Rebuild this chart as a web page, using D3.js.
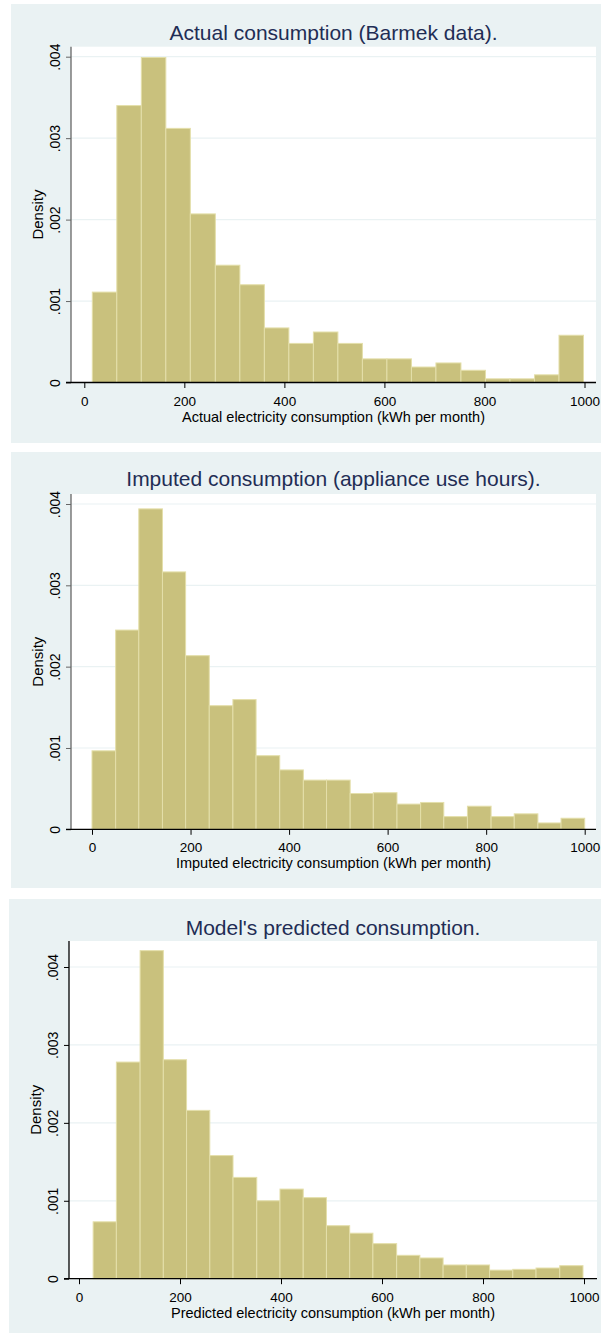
<!DOCTYPE html>
<html>
<head>
<meta charset="utf-8">
<script src="https://cdn.jsdelivr.net/npm/d3@7"></script>
<style>
body { margin: 0; background: #fff; }
text { font-family: "Liberation Sans", Arial, sans-serif; }
</style>
</head>
<body>
<div id="chart"></div>
<script>
//Tick values shared by all three histograms
var xTicks = [0, 200, 400, 600, 800, 1000];
var yTicks = [0, 0.001, 0.002, 0.003, 0.004];

//Panel titles and axis titles
var titles = ["Actual consumption (Barmek data).",
  "Imputed consumption (appliance use hours).",
  "Model's predicted consumption."];
var xTitles = ["Actual electricity consumption (kWh per month)",
  "Imputed electricity consumption (kWh per month)",
  "Predicted electricity consumption (kWh per month)"];

//Bin edges (kWh) and densities
var actualEdges = [16, 65, 114, 163, 212, 262, 311, 360, 409, 458, 507, 556, 605, 654, 703, 753, 802, 851, 900, 949, 998];
var actualDensity = [0.00111, 0.00340, 0.00399, 0.00312, 0.00207, 0.00144, 0.00120, 0.00067, 0.00048, 0.00062,
  0.00048, 0.00029, 0.00029, 0.00019, 0.00024, 0.00015, 0.000045, 0.000045, 0.000094, 0.00058];

var imputedEdges = [0, 48, 95, 143, 190, 238, 286, 333, 381, 429, 476, 524, 571, 619, 667, 714, 762, 810, 857, 905, 952, 1000];
var imputedDensity = [0.000965, 0.00245, 0.00394, 0.003165, 0.002135, 0.00152, 0.001595, 0.000905, 0.00073, 0.000605,
  0.000605, 0.00044, 0.00045, 0.00031, 0.00033, 0.000156, 0.000284, 0.000156, 0.00019, 0.000078, 0.000136];

var predictedEdges = [28, 74, 121, 167, 213, 259, 305, 352, 398, 444, 490, 536, 582, 629, 675, 721, 767, 813, 859, 905, 952, 998];
var predictedDensity = [0.00073, 0.00278, 0.00421, 0.00281, 0.00216, 0.00158, 0.00130, 0.00100, 0.00115, 0.00104,
  0.00068, 0.000584, 0.00045, 0.00030, 0.000266, 0.000176, 0.000176, 0.00011, 0.00012, 0.000137, 0.000167];

var allEdges = [actualEdges, imputedEdges, predictedEdges];
var allDensity = [actualDensity, imputedDensity, predictedDensity];

//Where each graph sits on the page
var layouts = [
  {bx: 11, by: 4, bw: 590, bh: 439, left: 71, right: 596, top: 46.7, y0: 382.5, y4: 56.7, x0: 84.3, x1: 584.5, titleY: 40, yAxisColor: "#666"},
  {bx: 11, by: 452, bw: 590, bh: 436, left: 71, right: 596, top: 494, y0: 829.3, y4: 504, x0: 92, x1: 584.7, titleY: 486, yAxisColor: "#666"},
  {bx: 9, by: 899, bw: 592, bh: 434, left: 69, right: 597, top: 941, y0: 1278.7, y4: 967, x0: 79, x1: 584, titleY: 935, yAxisColor: "#000"}
];

var bg = "#eaf2f3";
var barFill = "#c9c17d";
var barLine = "#e4dfaa";
var titleColor = "#1f2d55";

//SVG container
var svg = d3.select("#chart")
  .append("svg")
  .attr("width", 601)
  .attr("height", 1336);

var yFormat = function(d) { return d === 0 ? "0" : d3.format(".3f")(d).replace(/^0/, ""); };

layouts.forEach(function(L, p) {
  var g = svg.append("g");
  var edges = allEdges[p];
  var dens = allDensity[p];

  var x = d3.scaleLinear().domain([0, 1000]).range([L.x0, L.x1]);
  var y = d3.scaleLinear().domain([0, 0.004]).range([L.y0, L.y4]);

  //graph background and plot region
  g.append("rect")
    .attr("x", L.bx).attr("y", L.by)
    .attr("width", L.bw).attr("height", L.bh)
    .style("fill", bg);
  g.append("rect")
    .attr("x", L.left).attr("y", L.top)
    .attr("width", L.right - L.left).attr("height", L.y0 - L.top)
    .style("fill", "#fff");

  //grid lines
  g.selectAll(".grid")
    .data(yTicks.slice(1))
    .enter().append("line")
    .attr("x1", L.left).attr("x2", L.right)
    .attr("y1", function(d) { return y(d); })
    .attr("y2", function(d) { return y(d); })
    .style("stroke", bg)
    .style("stroke-width", 1.2);

  //bars
  g.selectAll(".bar")
    .data(dens)
    .enter().append("rect")
    .attr("x", function(d, i) { return x(edges[i]); })
    .attr("width", function(d, i) { return x(edges[i + 1]) - x(edges[i]); })
    .attr("y", function(d) { return y(d); })
    .attr("height", function(d) { return y(0) - y(d); })
    .style("fill", barFill)
    .style("stroke", barLine)
    .style("stroke-width", 1);

  //x axis
  var xAxis = d3.axisBottom(x)
    .tickValues(xTicks)
    .tickSize(5.5)
    .tickFormat(d3.format("d"));
  var gx = g.append("g")
    .attr("transform", "translate(0," + L.y0 + ")")
    .call(xAxis);
  gx.select(".domain").remove();
  gx.selectAll("text")
    .attr("y", 23).attr("dy", 0)
    .style("font-size", "13.5px").style("fill", "#000")
    .style("font-family", "'Liberation Sans', Arial, sans-serif");
  gx.selectAll("line").style("stroke", "#000");

  //y axis
  var yAxis = d3.axisLeft(y)
    .tickValues(yTicks)
    .tickSize(5)
    .tickFormat(yFormat);
  var gy = g.append("g")
    .attr("transform", "translate(" + L.left + ",0)")
    .call(yAxis);
  gy.select(".domain").remove();
  gy.selectAll("line").style("stroke", L.yAxisColor);
  gy.selectAll("text")
    .attr("transform", "rotate(-90)")
    .attr("x", 0).attr("y", -11).attr("dy", 0)
    .style("text-anchor", "middle")
    .style("font-size", "14px").style("fill", "#000")
    .style("font-family", "'Liberation Sans', Arial, sans-serif");

  //axis lines
  g.append("line")
    .attr("x1", L.left).attr("x2", L.left)
    .attr("y1", L.top).attr("y2", L.y0)
    .style("stroke", L.yAxisColor).style("stroke-width", 1.3);
  g.append("line")
    .attr("x1", L.left - 5).attr("x2", L.right)
    .attr("y1", L.y0).attr("y2", L.y0)
    .style("stroke", "#000").style("stroke-width", 1.3);

  var midX = (L.left + L.right) / 2;

  //titles
  g.append("text")
    .attr("x", midX).attr("y", L.titleY)
    .attr("text-anchor", "middle")
    .style("font-size", "21px")
    .style("fill", titleColor)
    .text(titles[p]);

  g.append("text")
    .attr("x", midX).attr("y", L.y0 + 39)
    .attr("text-anchor", "middle")
    .style("font-size", "14.5px")
    .style("fill", "#000")
    .text(xTitles[p]);

  g.append("text")
    .attr("transform", "translate(" + (L.left - 28.5) + "," + ((L.top + L.y0) / 2) + ") rotate(-90)")
    .attr("text-anchor", "middle")
    .style("font-size", "15px")
    .style("fill", "#000")
    .text("Density");
});
</script>
</body>
</html>
